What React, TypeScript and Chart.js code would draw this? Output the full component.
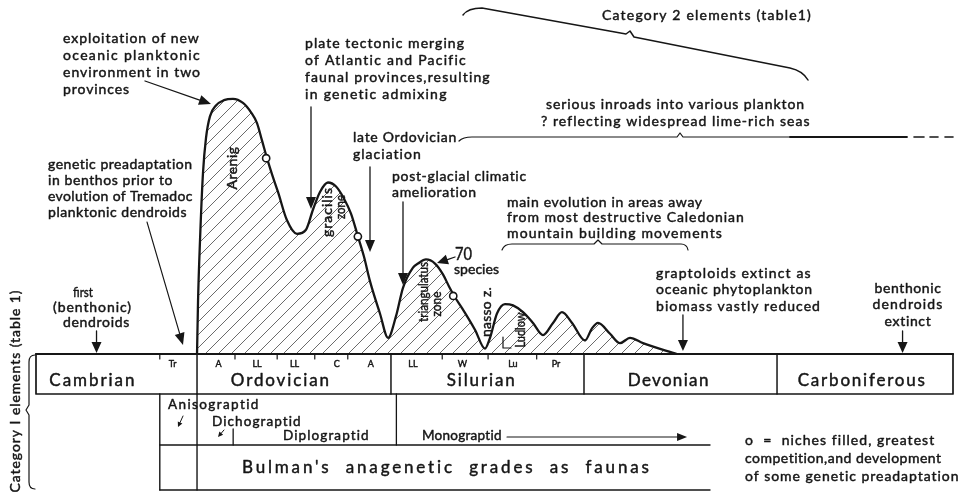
import React, { useEffect, useRef } from 'react';
import { Chart, registerables } from 'chart.js';

Chart.register(...registerables);

// ---------------- data ----------------
// x = relative position along the geological time bar (0 = base of Cambrian, 100 = top of Carboniferous)
// y = number of graptoloid species
const periodNames = ['Cambrian', 'Ordovician', 'Silurian', 'Devonian', 'Carboniferous'];
const periodBounds = [0, 17.56, 38.71, 59.76, 80.81, 100];
const periodLabelPos = [6.2, 26.7, 48.6, 69.0, 90.1];
const periodLabelWidth = [87, 100, 70, 82, 129];

const stageLabels = ['Tr', 'A', 'LL', 'LL', 'C', 'A', 'LL', 'W', 'Lu', 'Pr'];
const stageLabelPos = [14.9, 19.9, 24.1, 28.2, 32.8, 36.5, 41.1, 46.5, 52.0, 56.7];
const stageTicks = [13.5, 21.7, 26.3, 30.4, 34.0, 44.3, 49.3, 54.6];

const timePos = [
  17.56, 17.67, 17.88, 18.21, 18.54, 18.97, 19.63, 20.5, 21.48, 22.57, 23.45,
  24.1, 24.65, 25.19, 25.74, 26.39, 27.37, 28.46, 29.44, 30.21, 30.97, 31.84,
  32.72, 33.59, 34.35, 35.11, 35.77, 36.42, 37.51, 38.39, 39.26, 40.02, 41.11,
  41.66, 42.53, 43.51, 44.38, 45.04, 45.69, 46.46, 47.87, 48.96, 49.51, 50.27,
  51.14, 52.02, 53.11, 54.2, 55.29, 56.38, 57.36, 58.46, 59.87, 60.63, 61.29,
  62.6, 63.69, 64.78, 66.19, 69.9,
];
const species = [
  0, 39, 83, 134, 160, 176, 184, 188, 189, 186, 179,
  171, 158, 145, 133, 120, 99, 89, 92, 107, 120, 127,
  124, 115, 104, 87, 72, 54, 30, 12, 28, 49, 64,
  67, 70, 67, 59, 50, 42, 34, 18, 4, 12, 30,
  37, 36, 31, 23, 14, 23, 31, 23, 10, 19, 23,
  15, 8, 12, 8, 0,
];

const nicheTimePos = [25.1, 35.1, 45.5];
const nicheSpecies = [145, 87, 43];

const grades = ['Anisograptid', 'Dichograptid', 'Diplograptid', 'Monograptid'];

// ---------------- drawing helpers ----------------
const INK = '#161616';
const FONT = 'Lato, "DejaVu Sans", sans-serif';

function T(ctx: any, s: string, x: number, y: number, size: number, w?: number, align: string = 'left', rot = 0) {
  ctx.save();
  ctx.font = `${size}px ${FONT}`;
  ctx.letterSpacing = '0px';
  ctx.textAlign = align;
  ctx.textBaseline = 'middle';
  let sx = 1;
  if (w) {
    const m = ctx.measureText(s).width;
    const ls = (w - m) / s.length;
    if (ls >= -0.6) ctx.letterSpacing = ls + 'px';
    else sx = w / m;
  }
  ctx.translate(x, y);
  if (rot) ctx.rotate(rot);
  if (sx !== 1) ctx.scale(sx, 1);
  ctx.fillText(s, 0, 0);
  ctx.lineWidth = 0.45;
  ctx.strokeText(s, 0, 0);
  ctx.restore();
}

function L(ctx: any, x1: number, y1: number, x2: number, y2: number, lw = 1.5) {
  ctx.lineWidth = lw;
  ctx.beginPath();
  ctx.moveTo(x1, y1);
  ctx.lineTo(x2, y2);
  ctx.stroke();
}

function arrow(ctx: any, x1: number, y1: number, x2: number, y2: number, head = 11, hw = 5, lw = 1.3) {
  const a = Math.atan2(y2 - y1, x2 - x1);
  const bx = x2 - head * Math.cos(a);
  const by = y2 - head * Math.sin(a);
  L(ctx, x1, y1, bx, by, lw);
  ctx.beginPath();
  ctx.moveTo(x2, y2);
  ctx.lineTo(bx + hw * Math.sin(a), by - hw * Math.cos(a));
  ctx.lineTo(bx - hw * Math.sin(a), by + hw * Math.cos(a));
  ctx.closePath();
  ctx.fill();
}

function block(ctx: any, x: number, y0: number, dy: number, lines: [string, number][], size = 14, align = 'left') {
  lines.forEach(([s, w], i) => T(ctx, s, x, y0 + i * dy, size, w, align));
}

function makeHatch() {
  const c = document.createElement('canvas');
  c.width = 13;
  c.height = 13;
  const g = c.getContext('2d')!;
  g.strokeStyle = '#5a5a5a';
  g.lineWidth = 0.9;
  g.beginPath();
  g.moveTo(-1, 14);
  g.lineTo(14, -1);
  g.moveTo(-1, 1);
  g.lineTo(1, -1);
  g.moveTo(12, 14);
  g.lineTo(14, 12);
  g.stroke();
  return g.createPattern(c, 'repeat');
}

const overlayPlugin = {
  id: 'overlay',
  afterDraw(chart: any) {
    const ctx = chart.ctx;
    const xs = chart.scales.x;
    const ys = chart.scales.y;
    const X = (u: number) => xs.getPixelForValue(u);
    const Y = (v: number) => ys.getPixelForValue(v);
    const yb = Y(0);
    ctx.save();
    ctx.strokeStyle = INK;
    ctx.fillStyle = INK;
    ctx.lineCap = 'round';
    ctx.lineJoin = 'round';

    // ---- time bar ----
    const left = X(periodBounds[0]);
    const right = X(periodBounds[periodBounds.length - 1]);
    ctx.lineWidth = 1.7;
    ctx.strokeRect(left, yb, right - left, 40);
    L(ctx, left, yb, right, yb, 2.2);
    for (let i = 1; i < periodBounds.length - 1; i++) L(ctx, X(periodBounds[i]), yb, X(periodBounds[i]), yb + 40, 1.5);
    stageTicks.forEach((u) => L(ctx, X(u), yb, X(u), yb + 5, 1.2));
    stageLabels.forEach((s, i) => T(ctx, s, X(stageLabelPos[i]), yb + 10, 9, undefined, 'center'));
    periodNames.forEach((s, i) => T(ctx, s, X(periodLabelPos[i]), yb + 27, 17, periodLabelWidth[i], 'center'));

    // ---- graptolite grade box ----
    const gx0 = X(13.5), gx1 = X(73.5), gOrd = X(periodBounds[1]), gMono = X(39.3);
    L(ctx, gx0, yb + 40, gx0, yb + 136, 1.4);
    L(ctx, gOrd, yb + 40, gOrd, yb + 136, 1.4);
    L(ctx, gMono, yb + 40, gMono, yb + 91, 1.3);
    L(ctx, gx0, yb + 91, gx1, yb + 91, 1.4);
    L(ctx, gx0, yb + 136, gx1, yb + 136, 1.4);
    L(ctx, X(21.5), yb + 75, X(21.5), yb + 91, 1.3);
    T(ctx, grades[0], 168, 405, 13.5, 92);
    T(ctx, grades[1], 212, 422, 13.5, 90);
    T(ctx, grades[2], 283, 436, 13.5, 87);
    T(ctx, grades[3], 422, 436, 13.5, 80);
    arrow(ctx, 183, 416, 178, 427, 5, 2.5, 1);
    arrow(ctx, 224, 430, 218, 437, 5, 2.5, 1);
    arrow(ctx, 507, 437, X(71.0), 437, 10, 4, 1.1);
    T(ctx, "Bulman's  anagenetic  grades  as  faunas", 242, 468, 17, 410);

    // ---- left brace: Category I ----
    ctx.lineWidth = 1.2;
    ctx.beginPath();
    ctx.moveTo(35, 355);
    ctx.quadraticCurveTo(29, 355, 29, 362);
    ctx.lineTo(29, 405);
    ctx.lineTo(26, 410);
    ctx.lineTo(29, 415);
    ctx.lineTo(29, 482);
    ctx.quadraticCurveTo(29, 489, 35, 489);
    ctx.stroke();
    T(ctx, 'Category I elements (table 1)', 15, 391, 14, 203, 'center', -Math.PI / 2);

    // ---- Category 2 brace ----
    ctx.lineWidth = 1.5;
    ctx.beginPath();
    ctx.moveTo(463, 15);
    ctx.quadraticCurveTo(468, 8, 482, 8);
    ctx.lineTo(626, 34);
    ctx.lineTo(630, 31);
    ctx.lineTo(634, 37);
    ctx.lineTo(790, 68);
    ctx.quadraticCurveTo(803, 71, 808, 80);
    ctx.stroke();
    T(ctx, 'Category 2 elements (table1)', 602, 15, 14, 210);

    // ---- serious inroads line ----
    ctx.lineWidth = 1.2;
    ctx.beginPath();
    ctx.moveTo(459, 141);
    ctx.quadraticCurveTo(463, 137, 472, 137);
    ctx.lineTo(677, 137);
    ctx.lineTo(680, 133);
    ctx.lineTo(683, 137);
    ctx.lineTo(790, 137);
    ctx.stroke();
    L(ctx, 790, 137, 907, 137, 1.8);
    L(ctx, 914, 137, 924, 137, 1.6);
    L(ctx, 930, 137, 938, 137, 1.6);
    L(ctx, 945, 137, 953, 137, 1.6);
    T(ctx, 'serious inroads into various plankton', 546, 104, 14, 259);
    T(ctx, '? reflecting widespread lime-rich seas', 541, 121, 14, 270);

    // ---- main evolution brace ----
    ctx.lineWidth = 1.2;
    ctx.beginPath();
    ctx.moveTo(502, 250);
    ctx.quadraticCurveTo(504, 244, 512, 244);
    ctx.lineTo(594, 244);
    ctx.lineTo(598, 240);
    ctx.lineTo(602, 244);
    ctx.lineTo(681, 244);
    ctx.quadraticCurveTo(687, 244, 688, 250);
    ctx.stroke();
    block(ctx, 507, 202, 15.5, [
      ['main evolution in areas away', 196],
      ['from most destructive Caledonian', 238],
      ['mountain building movements', 216],
    ]);

    // ---- annotations with arrows ----
    block(ctx, 63, 38, 17, [
      ['exploitation of new', 137],
      ['oceanic planktonic', 138],
      ['environment in two', 138],
      ['provinces', 67],
    ]);
    arrow(ctx, 145, 81, 211, 104, 12, 5);

    block(ctx, 48, 164, 16, [
      ['genetic preadaptation', 145],
      ['in benthos prior to', 125],
      ['evolution of Tremadoc', 145],
      ['planktonic dendroids', 139],
    ]);
    arrow(ctx, 147, 222, 183, 345, 12, 5, 1.1);

    T(ctx, 'first', 73, 292, 14, 20);
    T(ctx, '(benthonic)', 53, 307, 14, 79);
    T(ctx, 'dendroids', 63, 322, 14, 67);
    arrow(ctx, X(6.6), 331, X(6.6), yb - 1, 11, 5);

    block(ctx, 305, 43, 17, [
      ['plate tectonic merging', 160],
      ['of Atlantic and Pacific', 162],
      ['faunal provinces,resulting', 186],
      ['in genetic admixing', 143],
    ]);
    arrow(ctx, 311, 107, 311, 209, 12, 5);

    block(ctx, 353, 137, 17, [
      ['late Ordovician', 104],
      ['glaciation', 69],
    ]);
    arrow(ctx, 370, 167, 370, 252, 12, 5);

    block(ctx, 392, 176, 16.5, [
      ['post-glacial climatic', 135],
      ['amelioration', 85],
    ]);
    arrow(ctx, 403, 202, 403, 285, 12, 5);

    T(ctx, '70', 455, 255, 17, 17);
    T(ctx, 'species', 454, 269, 14, 45);
    arrow(ctx, 455, 257, 437, 263, 11, 5);

    block(ctx, 656, 273, 16.5, [
      ['graptoloids extinct as', 156],
      ['oceanic phytoplankton', 157],
      ['biomass vastly reduced', 165],
    ]);
    arrow(ctx, X(70.55), 315, X(70.55), yb - 3, 11, 5);

    block(ctx, 908, 288, 16.5, [
      ['benthonic', 67],
      ['dendroids', 71],
      ['extinct', 47],
    ], 14, 'center');
    arrow(ctx, X(94.5), 331, X(94.5), yb - 1, 11, 5);

    // ---- labels on the curve ----
    const R = -Math.PI / 2;
    T(ctx, 'Arenig', 232, 168, 14, 43, 'center', R);
    T(ctx, 'gracilis', 327, 212, 14, 50, 'center', R);
    T(ctx, 'zone', 340, 207, 14, 24, 'center', R);
    T(ctx, 'triangulatus', 423, 292, 14, 60, 'center', R);
    T(ctx, 'zone', 436, 304, 14, 25, 'center', R);
    T(ctx, 'nasso z.', 486, 312, 14, 50, 'center', R);
    T(ctx, 'Ludlow', 521, 330, 13, 35, 'center', R);
    ctx.lineWidth = 1.2;
    ctx.beginPath();
    ctx.moveTo(503, 337);
    ctx.lineTo(503, 348);
    ctx.lineTo(511, 348);
    ctx.stroke();

    // ---- key ----
    block(ctx, 745, 440, 18, [
      ['o  =  niches filled, greatest', 190],
      ['competition,and development', 197],
      ['of some genetic preadaptation', 215],
    ]);

    ctx.restore();
  },
};

export default function App() {
  const ref = useRef<HTMLCanvasElement>(null);
  useEffect(() => {
    const canvas = ref.current!;
    const curve = timePos.map((x, i) => ({ x, y: species[i] }));
    const niches = nicheTimePos.map((x, i) => ({ x, y: nicheSpecies[i] }));
    const chart = new Chart(canvas, {
      type: 'line',
      data: {
        datasets: [
          {
            label: 'niches filled',
            data: niches,
            showLine: false,
            pointRadius: 3.6,
            pointStyle: 'circle',
            pointBackgroundColor: '#ffffff',
            pointBorderColor: INK,
            pointBorderWidth: 1.6,
            order: 0,
          } as any,
          {
            label: 'graptoloid species',
            data: curve,
            borderColor: INK,
            borderWidth: 2.3,
            backgroundColor: makeHatch() as any,
            fill: 'origin',
            pointRadius: 0,
            cubicInterpolationMode: 'monotone',
            order: 1,
          } as any,
        ],
      },
      options: {
        responsive: false,
        animation: false,
        events: [],
        layout: { padding: { left: 36, right: 17, top: 0, bottom: 143 } },
        plugins: { legend: { display: false }, tooltip: { enabled: false }, title: { display: false } },
        scales: {
          x: { type: 'linear', min: 0, max: 100, display: false },
          y: { type: 'linear', min: 0, max: 258, display: false },
        },
      },
      plugins: [overlayPlugin],
    });
    return () => chart.destroy();
  }, []);
  return (
    <div style={{ position: 'absolute', left: 0, top: 0, width: 970, height: 497, background: '#fff' }}>
      <canvas ref={ref} width={970} height={497} style={{ display: 'block' }} />
    </div>
  );
}
